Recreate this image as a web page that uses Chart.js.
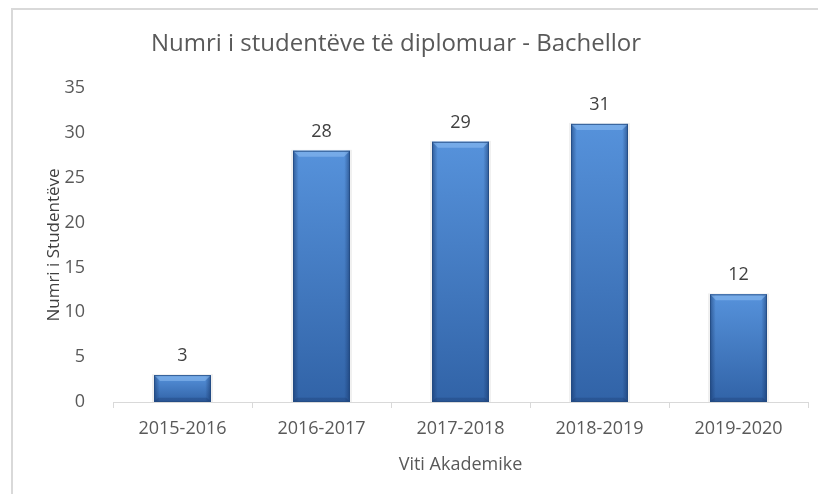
<!DOCTYPE html>
<html>
<head>
<meta charset="utf-8">
<script src="https://cdn.jsdelivr.net/npm/chart.js@4"></script>
<style>
html,body{margin:0;padding:0;background:#fff;}
#wrap{position:relative;width:818px;height:494px;}
</style>
</head>
<body>
<div id="wrap"><canvas id="c" width="818" height="494"></canvas></div>
<script>
const categories = ["2015-2016", "2016-2017", "2017-2018", "2018-2019", "2019-2020"];
const studentCounts = [3, 28, 29, 31, 12];
const yTicks = [0, 5, 10, 15, 20, 25, 30, 35];
const chartTitle = "Numri i studentëve të diplomuar - Bachellor";
const yTitle = "Numri i Studentëve";
const xTitle = "Viti Akademike";

const FONT = "'Open Sans', sans-serif";
const GREY = "#595959";

const frame = {
  id: "frame",
  beforeDraw(chart) {
    const ctx = chart.ctx;
    ctx.save();
    ctx.strokeStyle = "#d9d9d9";
    ctx.lineWidth = 2;
    ctx.strokeRect(12, 9, 900, 600);
    ctx.font = "24px " + FONT;
    ctx.fillStyle = GREY;
    ctx.textAlign = "center";
    ctx.textBaseline = "alphabetic";
    ctx.fillText(chartTitle, 396, 51);
    ctx.restore();
  }
};

const bevel = {
  id: "bevel",
  afterDatasetsDraw(chart) {
    const ctx = chart.ctx;
    chart.getDatasetMeta(0).data.forEach(el => {
      const p = el.getProps(["x", "y", "base", "width"], true);
      const l = p.x - p.width / 2, r = p.x + p.width / 2;
      const t = p.y, b = p.base, w = p.width, h = b - t;
      ctx.save();
      ctx.fillStyle = "rgba(0,0,0,0.06)";
      ctx.fillRect(l - 2, t - 1, w + 4, h + 1);
      const vg = ctx.createLinearGradient(0, t, 0, b);
      vg.addColorStop(0, "#5692db");
      vg.addColorStop(1, "#3163a7");
      ctx.fillStyle = vg;
      ctx.fillRect(l, t, w, h);
      const hg = ctx.createLinearGradient(l, 0, r, 0);
      hg.addColorStop(0, "rgba(20,50,100,0.55)");
      hg.addColorStop(0.1, "rgba(20,50,100,0.0)");
      hg.addColorStop(0.9, "rgba(20,50,100,0.0)");
      hg.addColorStop(1, "rgba(20,50,100,0.55)");
      ctx.fillStyle = hg;
      ctx.fillRect(l, t, w, h);
      const d = Math.min(6, h / 3);
      ctx.fillStyle = "rgba(150,195,245,0.5)";
      ctx.beginPath();
      ctx.moveTo(l, t); ctx.lineTo(r, t); ctx.lineTo(r - d, t + d); ctx.lineTo(l + d, t + d); ctx.closePath();
      ctx.fill();
      ctx.fillStyle = "rgba(20,45,90,0.25)";
      ctx.beginPath();
      ctx.moveTo(l, b); ctx.lineTo(r, b); ctx.lineTo(r - d * 0.7, b - d * 0.7); ctx.lineTo(l + d * 0.7, b - d * 0.7); ctx.closePath();
      ctx.fill();
      ctx.strokeStyle = "rgba(35,75,130,0.8)";
      ctx.lineWidth = 1;
      ctx.strokeRect(l + 0.5, t + 0.5, w - 1, h - 1);
      ctx.restore();
    });
  }
};

const labels = {
  id: "valueLabels",
  afterDatasetsDraw(chart) {
    const ctx = chart.ctx;
    const ds = chart.data.datasets[0];
    ctx.save();
    ctx.font = "18px " + FONT;
    ctx.fillStyle = "#404040";
    ctx.textAlign = "center";
    ctx.textBaseline = "alphabetic";
    chart.getDatasetMeta(0).data.forEach((el, i) => {
      const p = el.getProps(["x", "y"], true);
      ctx.fillText(String(ds.data[i]), p.x, p.y - 14);
    });
    ctx.restore();
  }
};

new Chart(document.getElementById("c"), {
  type: "bar",
  data: {
    labels: categories,
    datasets: [{
      data: studentCounts,
      backgroundColor: "#4a85cf",
      barPercentage: 0.41,
      categoryPercentage: 1
    }]
  },
  options: {
    responsive: false,
    animation: false,
    devicePixelRatio: 1,
    layout: { padding: { left: 44, right: 10, top: 88, bottom: 18 } },
    plugins: {
      legend: { display: false },
      tooltip: { enabled: false },
      title: { display: false }
    },
    scales: {
      x: {
        afterFit(scale) { scale.height = 74; },
        grid: { display: true, drawOnChartArea: false, drawTicks: true, tickLength: 6, color: "#d9d9d9", offset: true },
        border: { display: true, color: "#d9d9d9", width: 1 },
        ticks: { color: GREY, font: { family: FONT, size: 18 }, padding: 10, maxRotation: 0 },
        title: { display: true, text: xTitle, color: GREY, font: { family: FONT, size: 18 }, padding: { top: 0, bottom: 0 } }
      },
      y: {
        min: 0, max: 35,
        afterBuildTicks(scale) { scale.ticks = yTicks.map(v => ({ value: v })); },
        afterFit(scale) { scale.width = 69; },
        grid: { display: false },
        border: { display: false },
        ticks: { color: GREY, font: { family: FONT, size: 18 }, padding: 20 },
        title: { display: true, text: yTitle, color: "#404040", font: { family: FONT, size: 17 }, padding: { top: 0, bottom: 0 } }
      }
    }
  },
  plugins: [frame, bevel, labels]
});
</script>
</body>
</html>
